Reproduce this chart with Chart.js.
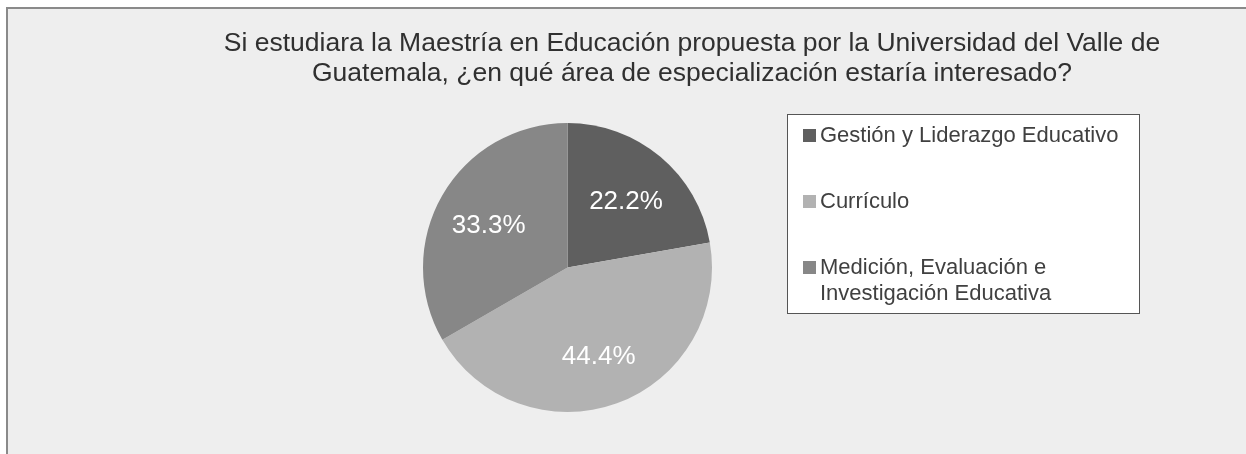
<!DOCTYPE html>
<html>
<head>
<meta charset="utf-8">
<script src="https://cdn.jsdelivr.net/npm/chart.js@4"></script>
<style>
  html, body { margin: 0; padding: 0; background: #ffffff; }
  #wrap { position: relative; width: 1246px; height: 454px; }
</style>
</head>
<body>
<div id="wrap"><canvas id="grafica" width="1246" height="454"></canvas></div>
<script>
// datos
var titulo = ['Si estudiara la Maestría en Educación propuesta por la Universidad del Valle de',
              'Guatemala, ¿en qué área de especialización estaría interesado?'];
var categorias = ['Gestión y Liderazgo Educativo', 'Currículo', ['Medición, Evaluación e', 'Investigación Educativa']];
var porcentajes = [22.2, 44.4, 33.3];
var colores = ['#5f5f5f', '#b2b2b2', '#878787'];

var fuente = '"Liberation Sans", Arial, sans-serif';

// fondo gris con borde
var fondo = {
    id: 'fondo',
    beforeDraw: function(chart) {
        let ctx = chart.ctx;
        ctx.save();
        ctx.fillStyle = '#ffffff';
        ctx.fillRect(0, 0, chart.width, chart.height);
        ctx.fillStyle = '#eeeeee';
        ctx.fillRect(7, 8, chart.width, chart.height);
        ctx.strokeStyle = '#8a8a8a';
        ctx.lineWidth = 2;
        ctx.beginPath();
        ctx.moveTo(7, chart.height);
        ctx.lineTo(7, 8);
        ctx.lineTo(chart.width, 8);
        ctx.stroke();
        // titulo
        ctx.fillStyle = '#303030';
        ctx.font = '26.5px ' + fuente;
        ctx.textAlign = 'center';
        ctx.textBaseline = 'alphabetic';
        titulo.forEach((linea, i) => {
            ctx.fillText(linea, 692, 51 + i * 30);
        });
        ctx.restore();
    }
};

// porcentajes dentro de cada rebanada
var etiquetas = {
    id: 'etiquetas',
    afterDatasetsDraw: function(chart) {
        let ctx = chart.ctx;
        let meta = chart.getDatasetMeta(0);
        ctx.save();
        ctx.fillStyle = '#ffffff';
        ctx.font = '26px ' + fuente;
        ctx.textAlign = 'center';
        ctx.textBaseline = 'middle';
        meta.data.forEach((arco, i) => {
            let p = arco.getProps(['x', 'y', 'startAngle', 'endAngle', 'outerRadius'], true);
            let medio = (p.startAngle + p.endAngle) / 2;
            let r = p.outerRadius * 0.63;
            ctx.fillText(porcentajes[i].toFixed(1) + '%', p.x + Math.cos(medio) * r, p.y + Math.sin(medio) * r + 4);
        });
        ctx.restore();
    }
};

// leyenda en caja blanca a la derecha
var leyenda = {
    id: 'leyenda',
    afterDraw: function(chart) {
        let ctx = chart.ctx;
        ctx.save();
        ctx.fillStyle = '#ffffff';
        ctx.fillRect(787, 114, 352, 199);
        ctx.strokeStyle = '#555555';
        ctx.lineWidth = 1;
        ctx.strokeRect(787.5, 114.5, 352, 199);
        ctx.font = '22px ' + fuente;
        ctx.textBaseline = 'middle';
        ctx.textAlign = 'left';
        categorias.forEach((cat, i) => {
            let y = 135 + i * 66;
            ctx.fillStyle = colores[i];
            ctx.fillRect(803, y - 6, 13, 13);
            ctx.fillStyle = '#404040';
            let lineas = Array.isArray(cat) ? cat : [cat];
            lineas.forEach((l, j) => {
                ctx.fillText(l, 820, y + 1 + j * 26);
            });
        });
        ctx.restore();
    }
};

var ctxGrafica = document.getElementById('grafica').getContext('2d');
var graficaPastel = new Chart(ctxGrafica, {
    type: 'pie',
    data: {
        labels: categorias,
        datasets: [{
            data: porcentajes,
            backgroundColor: colores,
            borderWidth: 0
        }]
    },
    options: {
        responsive: false,
        animation: false,
        layout: {
            padding: { top: 123, bottom: 42, left: 423, right: 534 }
        },
        plugins: {
            legend: { display: false },
            title: { display: false },
            tooltip: { enabled: false }
        }
    },
    plugins: [fondo, etiquetas, leyenda]
});
</script>
</body>
</html>
